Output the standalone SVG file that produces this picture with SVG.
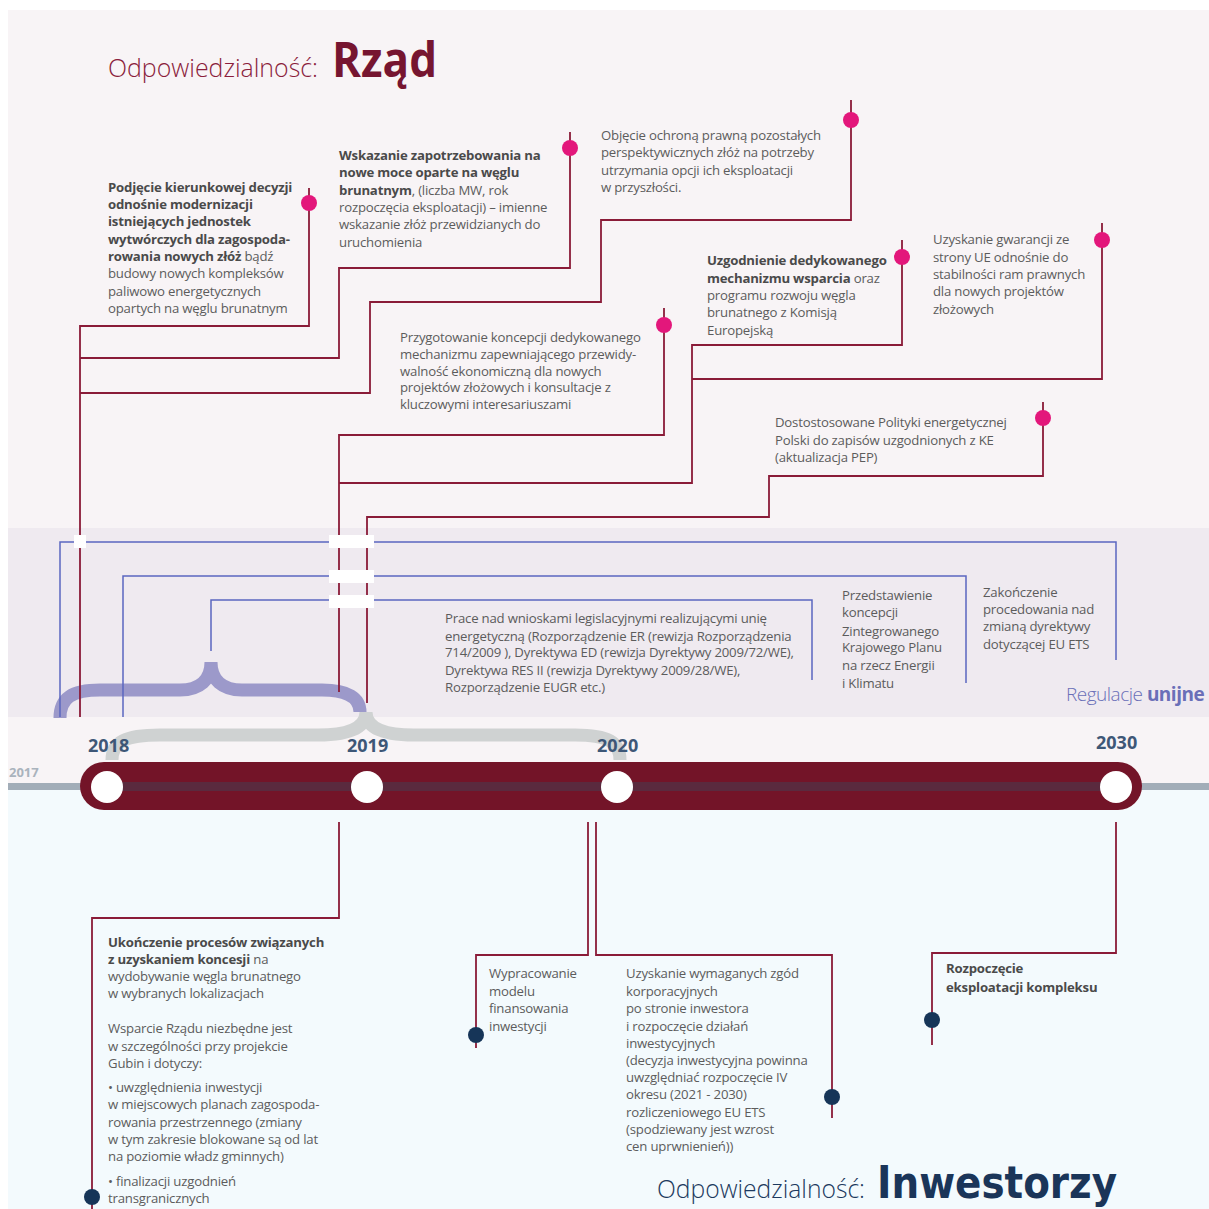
<svg xmlns="http://www.w3.org/2000/svg" width="1209" height="1209" viewBox="0 0 1209 1209">
<defs>
<style>
.t{font-family:"Open Sans","Noto Sans",sans-serif;font-size:13.2px;fill:#5c5c5c;letter-spacing:-0.2px}
.b{font-weight:700;fill:#4a4a4a}
.mr{stroke:#8a1b38;stroke-width:1.8;fill:none}
.bl{stroke:#5b67c0;stroke-width:1.5;fill:none}
.pd{fill:#e3177b}
.nd{fill:#163558}
.yr{font-family:"Open Sans","Noto Sans",sans-serif;font-weight:700;font-size:18px;fill:#3e5777}
.wc{fill:#ffffff}
.gap{fill:#ffffff}
</style>
</defs>
<rect x="0" y="0" width="1209" height="1209" fill="#ffffff"/>
<rect x="8" y="10" width="1201" height="518" fill="#f8f4f6"/>
<rect x="8" y="528" width="1201" height="189" fill="#efeaf0"/>
<rect x="8" y="717" width="1201" height="69" fill="#f8f4f6"/>
<rect x="8" y="786" width="1201" height="423" fill="#f3fafd"/>

<g id="title-rzad">
<text x="108" y="77" font-family="Open Sans, Noto Sans, sans-serif" font-weight="300" font-size="25" fill="#8b1d3c" textLength="210" lengthAdjust="spacingAndGlyphs">Odpowiedzialność:</text>
<text x="332" y="77" font-family="Open Sans, Noto Sans, sans-serif" font-weight="700" font-size="49" fill="#761530" textLength="105" lengthAdjust="spacingAndGlyphs">Rząd</text>
</g>

<g id="braces">
<path d="M112,760 C112,742 125,735 160,735 L318,735 C350,735 366,728 366,712 C366,728 382,735 414,735 L575,735 C608,735 620,742 620,760" fill="none" stroke="#cfd2d2" stroke-width="13"/>
<path d="M60,718 C60,698 72,690 100,690 L180,690 C200,690 211,680 211,662 C211,680 222,690 242,690 L322,690 C348,690 360,698 360,712" fill="none" stroke="#9c99ca" stroke-width="13"/>
</g>

<g id="connectors">
<path class="bl" d="M60,717 V542 H1116 V660"/>
<path class="bl" d="M123,717 V576 H966 V683"/>
<path class="bl" d="M211,651 V600 H812 V680"/>
<path class="mr" d="M309,188 V326 H80 V717"/>
<path class="mr" d="M570,132 V268 H339 V358 H80"/>
<path class="mr" d="M851,100 V220 H601 V302 H370 V393 H80"/>
<path class="mr" d="M664,308 V435 H339 V692"/>
<path class="mr" d="M902,240 V345 H692 V483 H339"/>
<path class="mr" d="M1102,223 V379 H692"/>
<path class="mr" d="M1043,402 V476 H769 V517 H367 V703"/>
<rect class="gap" x="74" y="535" width="12" height="13"/>
<rect class="gap" x="329" y="535" width="45" height="13"/>
<rect class="gap" x="329" y="570" width="45" height="13"/>
<rect class="gap" x="329" y="595" width="45" height="13"/>
<path class="mr" d="M339,822 V918 H92 V1209"/>
<path class="mr" d="M588,822 V955 H476 V1048"/>
<path class="mr" d="M596,822 V955 H832 V1118"/>
<path class="mr" d="M1116,822 V953 H932 V1045"/>
</g>

<g id="timeline">
<rect x="8" y="783" width="1201" height="7" fill="#a2adb8"/>
<rect x="80" y="762" width="1062" height="48" rx="24" fill="#731428"/>
<rect x="96" y="782" width="1030" height="9" fill="#5a2a3e"/>
<circle class="wc" cx="107" cy="787" r="16"/>
<circle class="wc" cx="367" cy="787" r="16"/>
<circle class="wc" cx="617" cy="787" r="16"/>
<circle class="wc" cx="1116" cy="787" r="16"/>
<text x="9" y="777" font-family="Open Sans, Noto Sans, sans-serif" font-weight="700" font-size="13" fill="#aab3bd">2017</text>
<text class="yr" x="88" y="752">2018</text>
<text class="yr" x="347" y="752">2019</text>
<text class="yr" x="597" y="752">2020</text>
<text class="yr" x="1096" y="749">2030</text>
</g>

<g id="ev-podjecie">
<circle class="pd" cx="309" cy="203" r="8"/>
<text class="t"><tspan class="b" x="108" y="192">Podjęcie kierunkowej decyzji</tspan><tspan class="b" x="108" y="209">odnośnie modernizacji</tspan><tspan class="b" x="108" y="226">istniejących jednostek</tspan><tspan class="b" x="108" y="244">wytwórczych dla zagospoda-</tspan><tspan x="108" y="261"><tspan class="b">rowania nowych złóż</tspan> bądź</tspan><tspan x="108" y="278">budowy nowych kompleksów</tspan><tspan x="108" y="296">paliwowo energetycznych</tspan><tspan x="108" y="313">opartych na węglu brunatnym</tspan></text>
</g>

<g id="ev-wskazanie">
<circle class="pd" cx="570" cy="148" r="8"/>
<text class="t"><tspan class="b" x="339" y="160">Wskazanie zapotrzebowania na</tspan><tspan class="b" x="339" y="177">nowe moce oparte na węglu</tspan><tspan x="339" y="195"><tspan class="b">brunatnym</tspan>, (liczba MW, rok</tspan><tspan x="339" y="212">rozpoczęcia eksploatacji) – imienne</tspan><tspan x="339" y="229">wskazanie złóż przewidzianych do</tspan><tspan x="339" y="247">uruchomienia</tspan></text>
</g>

<g id="ev-objecie">
<circle class="pd" cx="851" cy="120" r="8"/>
<text class="t"><tspan x="601" y="140">Objęcie ochroną prawną pozostałych</tspan><tspan x="601" y="157">perspektywicznych złóż na potrzeby</tspan><tspan x="601" y="175">utrzymania opcji ich eksploatacji</tspan><tspan x="601" y="192">w przyszłości.</tspan></text>
</g>

<g id="ev-przygotowanie">
<circle class="pd" cx="664" cy="325" r="8"/>
<text class="t"><tspan x="400" y="342">Przygotowanie koncepcji dedykowanego</tspan><tspan x="400" y="359">mechanizmu zapewniającego przewidy-</tspan><tspan x="400" y="376">walność ekonomiczną dla nowych</tspan><tspan x="400" y="392">projektów złożowych i konsultacje z</tspan><tspan x="400" y="409">kluczowymi interesariuszami</tspan></text>
</g>

<g id="ev-uzgodnienie">
<circle class="pd" cx="902" cy="257" r="8"/>
<text class="t"><tspan class="b" x="707" y="265">Uzgodnienie dedykowanego</tspan><tspan x="707" y="283"><tspan class="b">mechanizmu wsparcia</tspan> oraz</tspan><tspan x="707" y="300">programu rozwoju węgla</tspan><tspan x="707" y="317">brunatnego z Komisją</tspan><tspan x="707" y="335">Europejską</tspan></text>
</g>

<g id="ev-gwarancje">
<circle class="pd" cx="1102" cy="240" r="8"/>
<text class="t"><tspan x="933" y="244">Uzyskanie gwarancji ze</tspan><tspan x="933" y="262">strony UE odnośnie do</tspan><tspan x="933" y="279">stabilności ram prawnych</tspan><tspan x="933" y="296">dla nowych projektów</tspan><tspan x="933" y="314">złożowych</tspan></text>
</g>

<g id="ev-pep">
<circle class="pd" cx="1043" cy="418" r="8"/>
<text class="t"><tspan x="775" y="427">Dostostosowane Polityki energetycznej</tspan><tspan x="775" y="445">Polski do zapisów uzgodnionych z KE</tspan><tspan x="775" y="462">(aktualizacja PEP)</tspan></text>
</g>

<g id="eu-prace">
<text class="t"><tspan x="445" y="623">Prace nad wnioskami legislacyjnymi realizującymi unię</tspan><tspan x="445" y="641">energetyczną (Rozporządzenie ER (rewizja Rozporządzenia</tspan><tspan x="445" y="657">714/2009 ), Dyrektywa ED (rewizja Dyrektywy 2009/72/WE),</tspan><tspan x="445" y="675">Dyrektywa RES II (rewizja Dyrektywy 2009/28/WE),</tspan><tspan x="445" y="692">Rozporządzenie EUGR etc.)</tspan></text>
</g>

<g id="eu-przedstawienie">
<text class="t"><tspan x="842" y="600">Przedstawienie</tspan><tspan x="842" y="617">koncepcji</tspan><tspan x="842" y="636">Zintegrowanego</tspan><tspan x="842" y="652">Krajowego Planu</tspan><tspan x="842" y="670">na rzecz Energii</tspan><tspan x="842" y="688">i Klimatu</tspan></text>
</g>

<g id="eu-zakonczenie">
<text class="t"><tspan x="983" y="597">Zakończenie</tspan><tspan x="983" y="614">procedowania nad</tspan><tspan x="983" y="631">zmianą dyrektywy</tspan><tspan x="983" y="649">dotyczącej EU ETS</tspan></text>
</g>

<g id="label-regulacje">
<text x="1066" y="701" font-family="Open Sans, Noto Sans, sans-serif" font-size="19" fill="#6a6fb8" letter-spacing="-0.5"><tspan font-weight="300">Regulacje </tspan><tspan font-weight="700">unijne</tspan></text>
</g>

<g id="ev-koncesje">
<circle class="nd" cx="92" cy="1197" r="8"/>
<text class="t"><tspan class="b" x="108" y="947">Ukończenie procesów związanych</tspan><tspan x="108" y="964"><tspan class="b">z uzyskaniem koncesji</tspan> na</tspan><tspan x="108" y="981">wydobywanie węgla brunatnego</tspan><tspan x="108" y="998">w wybranych lokalizacjach</tspan><tspan x="108" y="1033">Wsparcie Rządu niezbędne jest</tspan><tspan x="108" y="1051">w szczególności przy projekcie</tspan><tspan x="108" y="1068">Gubin i dotyczy:</tspan><tspan x="108" y="1092">• uwzględnienia inwestycji</tspan><tspan x="108" y="1109">w miejscowych planach zagospoda-</tspan><tspan x="108" y="1127">rowania przestrzennego (zmiany</tspan><tspan x="108" y="1144">w tym zakresie blokowane są od lat</tspan><tspan x="108" y="1161">na poziomie władz gminnych)</tspan><tspan x="108" y="1186">• finalizacji uzgodnień</tspan><tspan x="108" y="1203">transgranicznych</tspan></text>
</g>

<g id="ev-finansowanie">
<circle class="nd" cx="476" cy="1035" r="8"/>
<text class="t"><tspan x="489" y="978">Wypracowanie</tspan><tspan x="489" y="996">modelu</tspan><tspan x="489" y="1013">finansowania</tspan><tspan x="489" y="1031">inwestycji</tspan></text>
</g>

<g id="ev-zgody">
<circle class="nd" cx="832" cy="1097" r="8"/>
<text class="t"><tspan x="626" y="978">Uzyskanie wymaganych zgód</tspan><tspan x="626" y="996">korporacyjnych</tspan><tspan x="626" y="1013">po stronie inwestora</tspan><tspan x="626" y="1031">i rozpoczęcie działań</tspan><tspan x="626" y="1048">inwestycyjnych</tspan><tspan x="626" y="1065">(decyzja inwestycyjna powinna</tspan><tspan x="626" y="1082">uwzględniać rozpoczęcie IV</tspan><tspan x="626" y="1099">okresu (2021 - 2030)</tspan><tspan x="626" y="1117">rozliczeniowego EU ETS</tspan><tspan x="626" y="1134">(spodziewany jest wzrost</tspan><tspan x="626" y="1151">cen uprwnienień))</tspan></text>
</g>

<g id="ev-eksploatacja">
<circle class="nd" cx="932" cy="1020" r="8"/>
<text class="t"><tspan class="b" x="946" y="973">Rozpoczęcie</tspan><tspan class="b" x="946" y="992">eksploatacji kompleksu</tspan></text>
</g>

<g id="title-inwestorzy">
<text x="657" y="1198" font-family="Open Sans, Noto Sans, sans-serif" font-weight="300" font-size="25" fill="#1d3a5f" textLength="208" lengthAdjust="spacingAndGlyphs">Odpowiedzialność:</text>
<text x="877" y="1198" font-family="DejaVu Sans, sans-serif" font-weight="700" font-size="45" fill="#1a3559" textLength="240" lengthAdjust="spacingAndGlyphs">Inwestorzy</text>
</g>
</svg>
